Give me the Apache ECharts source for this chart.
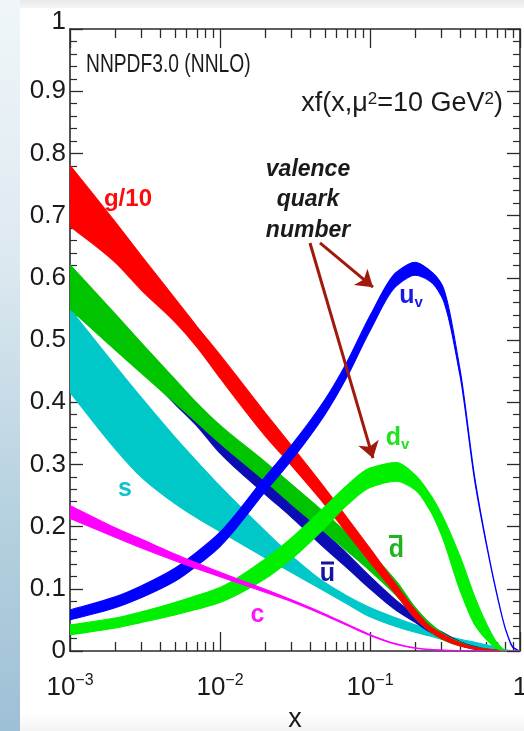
<!DOCTYPE html>
<html><head><meta charset="utf-8">
<script src="https://cdn.jsdelivr.net/npm/echarts@6/dist/echarts.min.js"></script>
<style>
html,body{margin:0;padding:0;}
body{width:524px;height:731px;overflow:hidden;
background:
 linear-gradient(to bottom,#f0f6f9 0%,#dde9f0 35%,#b6d1e0 70%,#9ec0d5 100%) left top/20px 100% no-repeat,
 linear-gradient(to bottom,#e9e9e9,#f5f5f5) left top/100% 8px no-repeat,
 linear-gradient(to bottom,#ffffff 0,#ffffff 97.5%,#f3f3f3 100%);}
#chart{position:absolute;left:0;top:0;width:524px;height:731px;}
</style></head><body><div id="chart"></div>
<script>
// ---- data ----
const xs = [0.001, 0.002, 0.003, 0.005, 0.007, 0.01, 0.02, 0.03, 0.05, 0.07, 0.1, 0.15, 0.2, 0.25, 0.3, 0.4, 0.5, 0.6, 0.7, 0.8, 0.9, 1.0];

const gLo  = [0.683, 0.625, 0.58, 0.529, 0.489, 0.439, 0.346, 0.298, 0.235, 0.19, 0.143, 0.09, 0.053, 0.032, 0.02, 0.008, 0.003, 0.0015, 0.0005, 0.0002, 0, 0];
const gHi  = [0.781, 0.69, 0.635, 0.567, 0.522, 0.476, 0.383, 0.33, 0.262, 0.215, 0.165, 0.106, 0.066, 0.04, 0.028, 0.013, 0.006, 0.003, 0.0015, 0.0005, 0.0002, 0];

const dbarLo = [0.55, 0.484, 0.4465, 0.399, 0.3675, 0.334, 0.273, 0.236, 0.191, 0.161, 0.129, 0.089, 0.053, 0.032, 0.019, 0.008, 0.004, 0.0015, 0.0004, 0, 0, 0];
const dbarHi = [0.621, 0.542, 0.495, 0.437, 0.399, 0.363, 0.304, 0.268, 0.222, 0.19, 0.158, 0.112, 0.07, 0.045, 0.03, 0.014, 0.006, 0.003, 0.001, 0.0003, 0, 0];

const ubarLo = [0.56, 0.49, 0.452, 0.397, 0.362, 0.318, 0.252, 0.215, 0.165, 0.134, 0.1, 0.065, 0.046, 0.031, 0.022, 0.009, 0.003, 0.0012, 0.0004, 0.0001, 0, 0];
const ubarHi = [0.61, 0.535, 0.49, 0.425, 0.39, 0.345, 0.28, 0.242, 0.19, 0.157, 0.12, 0.081, 0.058, 0.04, 0.031, 0.015, 0.007, 0.003, 0.0012, 0.0004, 0.0001, 0];

const sLo  = [0.416, 0.325, 0.279, 0.237, 0.214, 0.192, 0.15, 0.126, 0.096, 0.076, 0.055, 0.039, 0.03, 0.024, 0.019, 0.012, 0.007, 0.004, 0.002, 0, 0, 0];
const sHi  = [0.55, 0.459, 0.407, 0.344, 0.305, 0.265, 0.193, 0.153, 0.11, 0.089, 0.07, 0.053, 0.042, 0.034, 0.027, 0.019, 0.014, 0.01, 0.006, 0.002, 0.0005, 0];

const cLo  = [0.213, 0.183, 0.1655, 0.145, 0.1323, 0.1195, 0.0943, 0.0792, 0.0572, 0.0414, 0.025, 0.0105, 0.0045, 0.0022, 0.0014, 0.0005, 0.0002, 0, 0, 0, 0, 0];
const cHi  = [0.234, 0.198, 0.1795, 0.156, 0.1413, 0.1265, 0.0993, 0.0822, 0.0596, 0.0434, 0.0265, 0.0115, 0.0052, 0.0027, 0.0018, 0.0007, 0.0003, 0.0001, 0, 0, 0, 0];

const uvLo = [0.05, 0.0695, 0.086, 0.112, 0.137, 0.168, 0.256, 0.307, 0.38, 0.44, 0.515, 0.587, 0.604, 0.595, 0.57, 0.44, 0.272, 0.168, 0.091, 0.035, 0.005, 0];
const uvHi = [0.066, 0.087, 0.105, 0.133, 0.159, 0.191, 0.28, 0.331, 0.404, 0.464, 0.539, 0.609, 0.625, 0.612, 0.59, 0.45, 0.278, 0.171, 0.093, 0.036, 0.006, 0];

const dvLo = [0.026, 0.037, 0.046, 0.058, 0.067, 0.078, 0.116, 0.148, 0.198, 0.234, 0.263, 0.273, 0.259, 0.227, 0.186, 0.096, 0.042, 0.018, 0.004, 0, 0, 0];
const dvHi = [0.042, 0.053, 0.063, 0.078, 0.089, 0.102, 0.148, 0.182, 0.232, 0.266, 0.294, 0.303, 0.283, 0.253, 0.22, 0.151, 0.087, 0.043, 0.014, 0.001, 0, 0];

const xMajorTicks = [0.001, 0.01, 0.1, 1];
const xMinorTicks = [0.002,0.003,0.004,0.005,0.006,0.007,0.008,0.009,
                     0.02,0.03,0.04,0.05,0.06,0.07,0.08,0.09,
                     0.2,0.3,0.4,0.5,0.6,0.7,0.8,0.9];

// ---- styling / layout ----
const FONT = '"Liberation Sans", Arial, Helvetica, sans-serif';
const AX = '#2a2a2a';

// monotone cubic (in screen x) through points, returned as SVG cubic segments
function monoSegs(p) {
  const n = p.length, dx = [], dl = [], m = new Array(n);
  for (let i = 0; i < n - 1; i++) { dx[i] = p[i+1][0] - p[i][0]; dl[i] = (p[i+1][1] - p[i][1]) / dx[i]; }
  m[0] = dl[0]; m[n-1] = dl[n-2];
  for (let i = 1; i < n - 1; i++) {
    if (dl[i-1] * dl[i] <= 0) m[i] = 0;
    else { const h0 = dx[i-1], h1 = dx[i];
      m[i] = 3 * (h0 + h1) / ((2*h1 + h0) / dl[i-1] + (h1 + 2*h0) / dl[i]); }
  }
  let s = '';
  for (let i = 0; i < n - 1; i++) {
    const h = dx[i];
    s += 'C' + (p[i][0] + h/3) + ',' + (p[i][1] + m[i]*h/3) + ',' +
         (p[i+1][0] - h/3) + ',' + (p[i+1][1] - m[i+1]*h/3) + ',' + p[i+1][0] + ',' + p[i+1][1];
  }
  return s;
}

function band(name, lo, hi, color) {
  return {
    type:'custom', name:name, coordinateSystem:'cartesian2d', xAxisIndex:0, yAxisIndex:0,
    data:[[xs[0], lo[0]]], clip:true, silent:true, animation:false,
    renderItem: function (params, api) {
      const dn = xs.map((x, i) => api.coord([x, lo[i]]));
      const up = xs.map((x, i) => api.coord([x, hi[i]])).reverse();
      const d = 'M' + dn[0][0] + ',' + dn[0][1] + monoSegs(dn) +
                'L' + up[0][0] + ',' + up[0][1] + monoSegs(up) + 'Z';
      return {type:'path', shape:{pathData:d},
              style:{fill:color, stroke:color, lineWidth:1.1}};
    }
  };
}

const series = [
  band('s', sLo, sHi, '#00c8c8'),
  band('ubar', ubarLo, ubarHi, '#0c0cb4'),
  band('dbar', dbarLo, dbarHi, '#00c400'),
  band('g', gLo, gHi, '#ff0000'),
  band('uv', uvLo, uvHi, '#0000ff'),
  band('dv', dvLo, dvHi, '#00f000'),
  band('c', cLo, cHi, '#ff00ff')
];

const bold = {fontFamily:FONT, fontWeight:'bold'};
function subLabel(main, sub, color) {
  return {formatter:'{m|'+main+'}{s|'+sub+'}',
    rich:{m:Object.assign({fontSize:25, lineHeight:28, color:color}, bold),
          s:Object.assign({fontSize:15, lineHeight:12, verticalAlign:'bottom', color:color}, bold)}};
}
function plainLabel(t, color, size) {
  return {formatter:t, color:color, fontSize:size, fontFamily:FONT, fontWeight:'bold'};
}
const annotations = [
  {coord:[0.002435, 0.7267], label: plainLabel('g/10', '#ff0a0a', 24)},
  {coord:[0.1877, 0.570],   label: subLabel('u', 'v', '#1818e8')},
  {coord:[0.1526, 0.3416],  label: subLabel('d', 'v', '#22e022')},
  {coord:[0.1502, 0.1616],  label: plainLabel('d', '#1eb41e', 25)},
  {coord:[0.05207, 0.1238], label: plainLabel('u', '#14149e', 25)},
  {coord:[0.002326, 0.2605],label: plainLabel('s', '#10c2cc', 25)},
  {coord:[0.01778, 0.0579], label: plainLabel('c', '#ff14ff', 25)}
];
const overbars = [
  {coord:[0.1502, 0.1616], offset:[-1,-14], color:'#1eb41e'},
  {coord:[0.05207, 0.1238], offset:[0,-11], color:'#14149e'}
];
const arrows = [
  [[0.0464, 0.656], [0.1047, 0.585]],
  [[0.0398, 0.656], [0.1047, 0.310]]
];

const labelData = annotations.map(a => ({value:a.coord, symbolSize:0,
  label:Object.assign({show:true, position:'inside', opacity:1}, a.label)}));
overbars.forEach(b => labelData.push({value:b.coord, symbol:'rect', symbolSize:[13,3],
  symbolOffset:b.offset, itemStyle:{color:b.color, opacity:1}, label:{show:false}}));

series.push({
  type:'scatter', name:'labels', data:labelData, silent:true, animation:false, z:5,
  itemStyle:{opacity:1},
  markLine:{silent:true, animation:false, symbol:['none','arrow'], symbolSize:16,
    label:{show:false}, lineStyle:{color:'#a01a0c', width:3, type:'solid', opacity:1},
    emphasis:{disabled:true},
    data: arrows.map(a => [{coord:a[0]}, {coord:a[1]}])}
});

function xLabelFmt(v){
  const e = Math.round(Math.log10(v));
  if (e === 0) return '{b|1}';
  return '{b|10}{s|' + String(e).replace('-', '\u2212') + '}';
}
const xRich = {b:{fontSize:26, lineHeight:30, fontFamily:FONT, color:'#1a1a1a'},
               s:{fontSize:16, lineHeight:16, verticalAlign:'top', fontFamily:FONT, color:'#1a1a1a'}};

function logAxis(pos, ticks, len, showLine, showLabel) {
  return {type:'log', logBase:10, min:0.001, max:1, position:pos, gridIndex:0,
    axisLine:{show:showLine, onZero:false, lineStyle:{color:AX, width:1.6}},
    axisTick:{show:true, inside:true, length:len, customValues:ticks, lineStyle:{color:AX, width:1.3}},
    axisLabel:{show:showLabel, customValues:ticks, formatter:xLabelFmt, rich:xRich, margin:22},
    splitLine:{show:false}, minorTick:{show:false}, minorSplitLine:{show:false}};
}
const xAxes = [
  logAxis('bottom', xMajorTicks, 19, true, true),
  logAxis('bottom', xMinorTicks, 9, false, false),
  logAxis('top', xMajorTicks, 19, true, false),
  logAxis('top', xMinorTicks, 9, false, false)
];
xAxes[0].name = 'x';
xAxes[0].nameLocation = 'middle';
xAxes[0].nameGap = 42;
xAxes[0].nameTextStyle = {fontSize:27, fontFamily:FONT, color:'#1a1a1a'};

function yAxis(pos, showLabel) {
  return {type:'value', min:0, max:1, interval:0.1, position:pos, gridIndex:0,
    axisLine:{show:true, onZero:false, lineStyle:{color:AX, width:1.6}},
    axisTick:{show:true, inside:true, length:13, lineStyle:{color:AX, width:1.3}},
    minorTick:{show:true, splitNumber:5, length:7, lineStyle:{color:AX, width:1.2}},
    axisLabel:{show:showLabel, margin:4, fontSize:26, fontFamily:FONT, color:'#1a1a1a',
      formatter: v => (Math.abs(v-1) < 1e-9 ? '{t|1}' : String(+v.toFixed(1))),
      rich:{t:{fontSize:26, fontFamily:FONT, color:'#1a1a1a', padding:[0,0,15,0]}}},
    splitLine:{show:false}, minorSplitLine:{show:false}};
}

const chart = echarts.init(document.getElementById('chart'), null, {renderer:'canvas'});
chart.setOption({
  animation:false,
  backgroundColor:'transparent',
  grid:{left:70, right:4, top:29, bottom:80, containLabel:false, outerBoundsMode:'none'},
  xAxis:xAxes,
  yAxis:[yAxis('left', true), yAxis('right', false)],
  graphic:[
    {type:'text', x:86, y:65, scaleX:0.74, silent:true, z:10, style:{text:'NNPDF3.0 (NNLO)', fill:'#1a1a1a',
      font:'26px "Liberation Sans", Arial, sans-serif', verticalAlign:'middle', align:'left'}},
    {type:'text', x:503, y:104, silent:true, z:10, style:{text:'xf(x,\u03bc{s|2}=10 GeV{s|2})', fill:'#1a1a1a',
      font:'27px "Liberation Sans", Arial, sans-serif', verticalAlign:'middle', align:'right',
      rich:{s:{fontSize:17, lineHeight:16, verticalAlign:'top', fontFamily:FONT, fill:'#1a1a1a'}}}},
    {type:'text', x:308, y:200, silent:true, z:10, style:{text:'valence\nquark\nnumber', fill:'#1a1a1a',
      font:'italic bold 23px "Liberation Sans", Arial, sans-serif', lineHeight:30.5, verticalAlign:'middle', align:'center'}}
  ],
  series:series
});
</script></body></html>
